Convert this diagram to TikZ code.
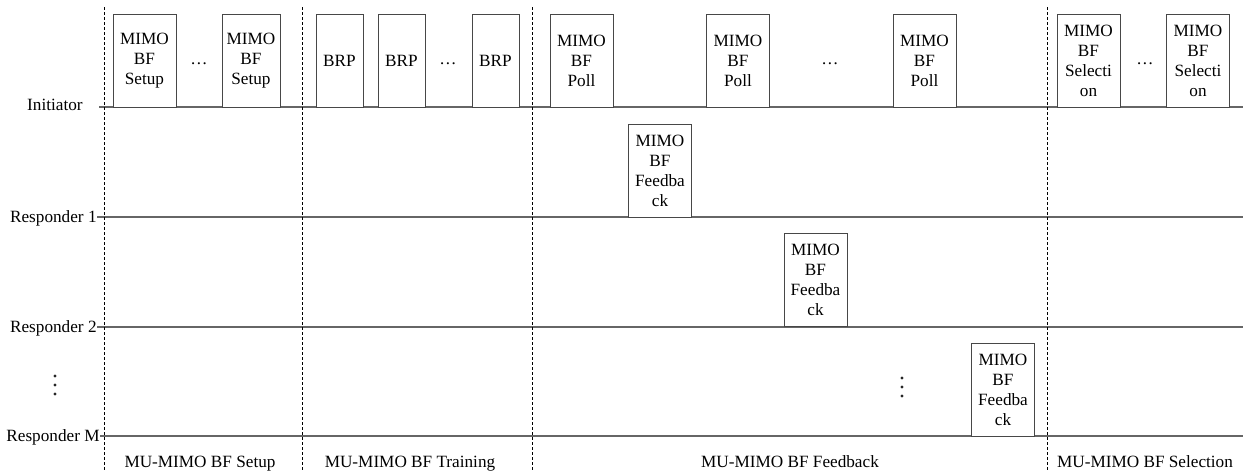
\documentclass[tikz,border=0pt]{standalone}
\usepackage{fontspec}
\setmainfont{Liberation Serif}
\begin{document}
\begin{tikzpicture}[x=0.5pt,y=-0.5pt,
  frame/.style={draw=black!72, fill=white, line width=0.5pt, inner sep=0pt,
    minimum width=31.5pt, minimum height=46.5pt, align=center,
    font=\fontsize{8.6}{10}\selectfont},
  txt/.style={inner sep=0pt, font=\fontsize{8.6}{10}\selectfont},
  lane/.style={draw=black!60, line width=0.6pt},
  dotmark/.style={fill=black!85},
  divider/.style={draw=black, line width=0.45pt, dash pattern=on 1.5pt off 1pt}]
\useasboundingbox (0,0) rectangle (1243,471);

% time lines of the stations
\coordinate (ia) at (99,107);  \coordinate (ib) at (1243,107);
\coordinate (ra) at (97,217);  \coordinate (rb) at (1243,217);
\coordinate (sa) at (97,327);  \coordinate (sb) at (1243,327);
\coordinate (ma) at (100,436); \coordinate (mb) at (1243,436);
\draw[lane] (ia) -- (ib);
\draw[lane] (ra) -- (rb);
\draw[lane] (sa) -- (sb);
\draw[lane] (ma) -- (mb);

% station names
\node[txt, anchor=base east] (linit) at (83,110.5) {Initiator};
\node[txt, anchor=base east] (lr1) at (97,222) {Responder 1};
\node[txt, anchor=base east] (lr2) at (97,332) {Responder 2};
\node[txt, anchor=base east] (lrm) at (100,441) {Responder M};

% vertical ellipses: more responders
\foreach \x/\yc in {55/385, 902/387} {
  \foreach \k in {-9,0,9} {
    \fill[dotmark] (\x,\yc+\k) circle (1.7);
  }
}

% phase boundaries
\foreach \n/\x in {d1/104, d2/302, d3/532, d4/1047} {
  \coordinate (\n t) at (\x,7);
  \coordinate (\n b) at (\x,471);
  \draw[divider] (\n t) -- (\n b);
}

% MU-MIMO BF Setup
\node[frame] (su1) at (144.5,60.5) {MIMO\\BF\\Setup};
\node[txt] (sud) at (199,64) {\dots};
\node[frame, minimum width=29pt] (su2) at (251,60.5) {MIMO\\BF\\Setup};

% MU-MIMO BF Training
\node[frame, minimum width=23.5pt] (brp1) at (339.5,60.5) {BRP};
\node[frame, minimum width=23.5pt] (brp2) at (401.5,60.5) {BRP};
\node[txt] (brpd) at (448,64) {\dots};
\node[frame, minimum width=23.5pt] (brp3) at (495.5,60.5) {BRP};

% MU-MIMO BF Feedback
\node[frame] (po1) at (581.5,60.5) {MIMO\\BF\\Poll};
\node[frame] (po2) at (738,60.5) {MIMO\\BF\\Poll};
\node[txt] (pod) at (830,64) {\dots};
\node[frame] (po3) at (924.5,60.5) {MIMO\\BF\\Poll};
\node[frame] (fb1) at (660,170.5) {MIMO\\BF\\Feedba\\ck};
\node[frame] (fb2) at (815.5,280) {MIMO\\BF\\Feedba\\ck};
\node[frame] (fbm) at (1003,389.5) {MIMO\\BF\\Feedba\\ck};

% MU-MIMO BF Selection
\node[frame] (se1) at (1088.5,60.5) {MIMO\\BF\\Selecti\\on};
\node[txt] (sed) at (1145,64) {\dots};
\node[frame] (se2) at (1198,60.5) {MIMO\\BF\\Selecti\\on};

% phase names
\node[txt, anchor=base] (ph1) at (200,467) {MU-MIMO BF Setup};
\node[txt, anchor=base] (ph2) at (410,467) {MU-MIMO BF Training};
\node[txt, anchor=base] (ph3) at (790,467) {MU-MIMO BF Feedback};
\node[txt, anchor=base] (ph4) at (1145,467) {MU-MIMO BF Selection};
\end{tikzpicture}
\end{document}
